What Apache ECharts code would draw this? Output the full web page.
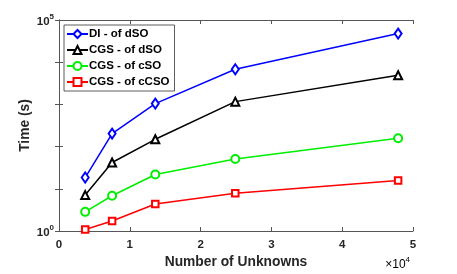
<!DOCTYPE html>
<html>
<head>
<meta charset="utf-8">
<script src="https://cdn.jsdelivr.net/npm/echarts@6/dist/echarts.min.js"></script>
<style>html,body{margin:0;padding:0;background:#fff}#c{width:457px;height:274px}</style>
</head>
<body>
<div id="c"></div>
<script>
const unknowns = [3700, 7500, 13600, 24900, 47900];
const seriesNames = ['DI - of dSO', 'CGS - of dSO', 'CGS - of cSO', 'CGS - of cCSO'];
const diDSO  = [18.5, 203, 1045, 6810, 47700];
const cgsDSO = [7.1, 42, 149, 1163, 4920];
const cgsCSO = [2.84, 6.85, 21.8, 50.6, 157];
const cgsCCSO = [1.09, 1.72, 4.37, 7.8, 15.7];
const xTicks = [0, 1, 2, 3, 4, 5];
const yTickExps = [0, 5];

const FONT = 'Liberation Sans, Arial, sans-serif';
const AX = '#555';
const chart = echarts.init(document.getElementById('c'), null, {renderer: 'canvas'});

function mk(name, data, color, symbol, size) {
  return {
    name: name, type: 'line',
    data: unknowns.map((x, i) => [x, data[i]]),
    symbol: symbol, symbolSize: size,
    lineStyle: {color: color, width: 1.5},
    itemStyle: {color: color, borderColor: color, borderWidth: 1.5},
    emphasis: {disabled: true},
    animation: false
  };
}

chart.setOption({
  animation: false,
  grid: {left: 59, right: 44, top: 20, bottom: 41},
  legend: {
    left: 64, top: 25, orient: 'vertical',
    backgroundColor: '#fff', borderColor: '#333', borderWidth: 0.8,
    padding: [3, 5, 3, 2],
    itemWidth: 21, itemHeight: 10, itemGap: 4,
    textStyle: {fontFamily: FONT, fontWeight: 'bold', fontSize: 11.5, color: '#000', lineHeight: 11, padding: [0, 0, 0, -4]},
    data: seriesNames
  },
  xAxis: [{
    type: 'value', min: 0, max: 50000, interval: 10000,
    axisLine: {lineStyle: {color: AX, width: 1}},
    axisTick: {inside: true, length: 4, lineStyle: {color: AX}},
    splitLine: {show: false},
    axisLabel: {margin: 8, fontFamily: FONT, fontWeight: 'bold', fontSize: 11.5, color: '#262626',
      formatter: v => { const t = v / 10000; return xTicks.includes(t) ? String(t) : ''; }},
    name: 'Number of Unknowns', nameLocation: 'middle', nameGap: 24, nameMoveOverlap: false,
    nameTextStyle: {fontFamily: FONT, fontWeight: 'bold', fontSize: 13.8, color: '#262626'}
  }, {
    type: 'value', min: 0, max: 50000, interval: 10000, position: 'top',
    axisLine: {lineStyle: {color: AX, width: 1}},
    axisTick: {inside: true, length: 4, lineStyle: {color: AX}},
    splitLine: {show: false}, axisLabel: {show: false}
  }],
  yAxis: [{
    type: 'log', logBase: 10, min: 1, max: 100000, splitNumber: 5,
    axisLine: {show: true, lineStyle: {color: AX, width: 1}},
    axisTick: {show: true, inside: true, length: 4, lineStyle: {color: AX}},
    splitLine: {show: false},
    axisLabel: {margin: 5, fontFamily: FONT, fontWeight: 'bold', fontSize: 11.5, color: '#262626',
      formatter: v => {
        const e = Math.round(Math.log10(v));
        return yTickExps.includes(e) ? '{b|10}{s|' + e + '}' : '';
      },
      rich: {
        b: {fontFamily: FONT, fontWeight: 'bold', fontSize: 11.5, color: '#262626', verticalAlign: 'bottom'},
        s: {fontFamily: FONT, fontWeight: 'bold', fontSize: 8, color: '#262626', padding: [0, 0, 7, 0], verticalAlign: 'bottom'}
      }},
    name: 'Time (s)', nameLocation: 'middle', nameGap: 27, nameRotate: 90, nameMoveOverlap: false,
    nameTextStyle: {fontFamily: FONT, fontWeight: 'bold', fontSize: 13.8, color: '#262626'}
  }, {
    type: 'log', logBase: 10, min: 1, max: 100000, splitNumber: 5, position: 'right',
    axisLine: {show: true, lineStyle: {color: AX, width: 1}},
    axisTick: {show: true, inside: true, length: 4, lineStyle: {color: AX}},
    splitLine: {show: false}, axisLabel: {show: false}
  }],
  graphic: [{
    type: 'text', right: 47, bottom: 3,
    style: {
      text: '{m|×10}{s|4}',
      rich: {
        m: {fontFamily: FONT, fontSize: 12, color: '#262626', verticalAlign: 'bottom'},
        s: {fontFamily: FONT, fontSize: 8, color: '#262626', padding: [0, 0, 7, 0], verticalAlign: 'bottom'}
      }
    }
  }],
  series: [
    mk(seriesNames[0], diDSO, '#0000ff', 'emptyDiamond', [7, 10]),
    mk(seriesNames[1], cgsDSO, '#000000', 'emptyTriangle', 8),
    mk(seriesNames[2], cgsCSO, '#00ee00', 'emptyCircle', 8),
    mk(seriesNames[3], cgsCCSO, '#ff0000', 'emptyRect', 6.5)
  ]
});
</script>
</body>
</html>
